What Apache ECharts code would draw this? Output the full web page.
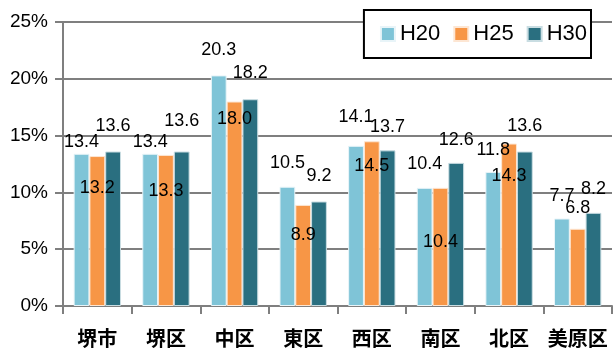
<!DOCTYPE html>
<html>
<head>
<meta charset="utf-8">
<script src="https://cdn.jsdelivr.net/npm/echarts@6/dist/echarts.min.js"></script>
<style>
html, body { margin: 0; padding: 0; background: #fff; }
#chart { width: 613px; height: 348px; }
</style>
</head>
<body>
<div id="chart"></div>
<script>
var categories = ['堺市', '堺区', '中区', '東区', '西区', '南区', '北区', '美原区'];
var seriesNames = ['H20', 'H25', 'H30'];
var h20 = [13.4, 13.4, 20.3, 10.5, 14.1, 10.4, 11.8, 7.7];
var h25 = [13.2, 13.3, 18.0, 8.9, 14.5, 10.4, 14.3, 6.8];
var h30 = [13.6, 13.6, 18.2, 9.2, 13.7, 12.6, 13.6, 8.2];
var yTicks = [0, 5, 10, 15, 20, 25];

// label placement like the original spreadsheet (gap above bar / shift inside bar)
var h20Gap = [3, 3, 16, 15, 20, 15, 13, 13];
var h30Gap = [16, 21, 17, 16, 14, 14, 16, 15];
var h25Shift = [32, 36, 18, 30, 25, 54, 32, -21];

var numFont = '"Liberation Sans", Arial, sans-serif';

function topLabels(values, gaps) {
    return values.map(function (v, i) {
        return { value: v, label: { distance: gaps[i] } };
    });
}

var chart = echarts.init(document.getElementById('chart'));
var option = {
    animation: false,
    grid: { left: 63, right: 1, top: 22, bottom: 41 },
    legend: {
        data: seriesNames,
        right: 22,
        top: 10,
        orient: 'horizontal',
        backgroundColor: '#fff',
        borderColor: '#000',
        borderWidth: 2,
        borderRadius: 0,
        padding: [13, 4, 13, 16],
        itemGap: 13,
        itemWidth: 14,
        itemHeight: 14,
        itemTextGap: 5,
        icon: 'rect',
        textStyle: { fontSize: 22, color: '#000', fontFamily: numFont }
    },
    xAxis: {
        type: 'category',
        data: categories,
        axisLine: { lineStyle: { color: '#7f7f7f', width: 2 } },
        axisTick: { show: true, length: 8, lineStyle: { color: '#7f7f7f', width: 2 } },
        axisLabel: {
            interval: 0,
            color: '#000',
            fontSize: 20,
            fontWeight: 'bold',
            margin: 22,
            fontFamily: '"Noto Sans CJK JP", sans-serif'
        }
    },
    yAxis: {
        type: 'value',
        min: yTicks[0],
        max: yTicks[yTicks.length - 1],
        interval: 5,
        axisLine: { show: true, lineStyle: { color: '#7f7f7f', width: 2 } },
        axisTick: { show: true, length: 8, lineStyle: { color: '#7f7f7f', width: 2 } },
        splitLine: { lineStyle: { color: '#7f7f7f', width: 2 } },
        axisLabel: {
            color: '#000',
            fontSize: 19,
            margin: 15,
            fontFamily: numFont,
            formatter: '{value}%'
        }
    },
    series: [
        {
            name: 'H20',
            type: 'bar',
            barGap: '0%',
            barCategoryGap: '31%',
            itemStyle: { color: '#7fc4d7', borderColor: '#e8f4f8', borderWidth: 1 },
            label: {
                show: true, position: 'top', color: '#000', fontSize: 18,
                fontFamily: numFont,
                formatter: function (p) { return p.value.toFixed(1); }
            },
            data: topLabels(h20, h20Gap)
        },
        {
            name: 'H25',
            type: 'bar',
            barGap: '0%',
            barCategoryGap: '31%',
            itemStyle: { color: '#f79646', borderColor: '#fde6d3', borderWidth: 1 },
            label: {
                show: true, color: '#000', fontSize: 18,
                fontFamily: numFont,
                align: 'center', verticalAlign: 'middle',
                formatter: function (p) { return p.value.toFixed(1); }
            },
            data: h25.map(function (v, i) {
                return { value: v, label: { position: ['50%', h25Shift[i]] } };
            })
        },
        {
            name: 'H30',
            type: 'bar',
            barGap: '0%',
            barCategoryGap: '31%',
            itemStyle: { color: '#2a6f80', borderColor: '#c9dde2', borderWidth: 1 },
            label: {
                show: true, position: 'top', color: '#000', fontSize: 18,
                fontFamily: numFont,
                formatter: function (p) { return p.value.toFixed(1); }
            },
            data: topLabels(h30, h30Gap)
        }
    ]
};
chart.setOption(option);
</script>
</body>
</html>
